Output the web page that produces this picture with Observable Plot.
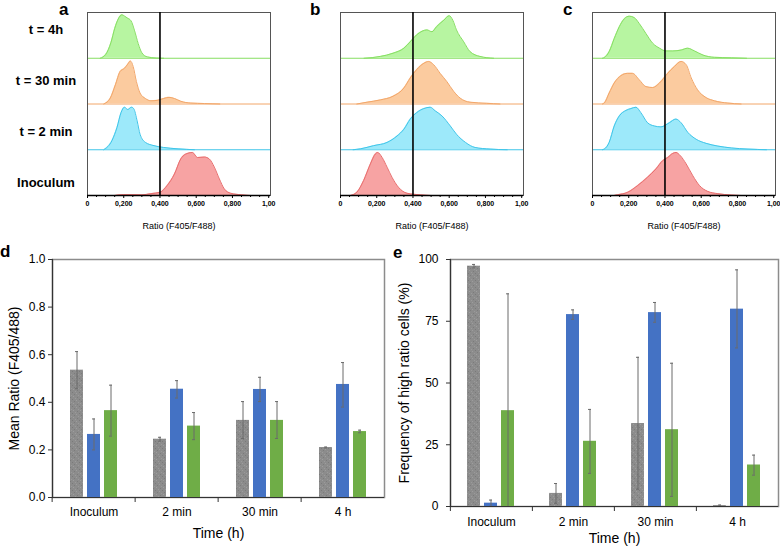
<!DOCTYPE html>
<html><head><meta charset="utf-8">
<script src="https://cdn.jsdelivr.net/npm/d3@7"></script>
<script src="https://cdn.jsdelivr.net/npm/@observablehq/plot@0.6"></script>
<style>
html,body{margin:0;padding:0;background:#fff;overflow:hidden;}
#root{position:relative;width:780px;height:548px;font-family:Arial,"Liberation Sans",Helvetica,sans-serif;color:#000;}
.panel{position:absolute;}
.letter{position:absolute;font-weight:bold;font-size:17px;line-height:17px;}
.rowlab{position:absolute;left:0;width:92px;text-align:center;font-weight:bold;font-size:13px;line-height:18px;}
</style></head><body>
<svg width="0" height="0" style="position:absolute">
  <defs>
    <pattern id="speckle" width="7" height="7" patternUnits="userSpaceOnUse">
      <rect width="7" height="7" fill="#8c8c8c"/>
      <rect x="0" y="0" width="1" height="1" fill="#7a7a7a"/>
      <rect x="4" y="1" width="1" height="1" fill="#9d9d9d"/>
      <rect x="2" y="2" width="1" height="1" fill="#7c7c7c"/>
      <rect x="6" y="3" width="1" height="1" fill="#9a9a9a"/>
      <rect x="1" y="4" width="1" height="1" fill="#9e9e9e"/>
      <rect x="5" y="5" width="1" height="1" fill="#7b7b7b"/>
      <rect x="3" y="6" width="1" height="1" fill="#9b9b9b"/>
    </pattern>
  </defs>
</svg>
<div id="root"></div>
<script>
// ---------- Data: top panels (ridgelines), rows listed top to bottom ----------
const rowLabels = ["t = 4h", "t = 30 min", "t = 2 min", "Inoculum"];
const panelLetters = ["a", "b", "c", "d", "e"];
const threshold = 0.4;
const xTicks = [0, 0.2, 0.4, 0.6, 0.8, 1.0];
const xTickLabels = ["0", "0,200", "0,400", "0,600", "0,800", "1,00"];
const xMinorTicks = [0.05,0.1,0.15,0.25,0.3,0.35,0.45,0.5,0.55,0.65,0.7,0.75,0.85,0.9,0.95];
const ridgeXLabel = "Ratio (F405/F488)";

// [ratio, relative height] knots
const a_4h = [[0.07,0],[0.10,0.08],[0.13,0.35],[0.15,0.65],[0.17,0.86],[0.19,0.95],[0.205,0.92],[0.22,0.88],[0.24,0.82],[0.26,0.6],[0.28,0.32],[0.30,0.12],[0.33,0.03],[0.38,0.005],[0.42,0]];
const a_30min = [[0.09,0],[0.126,0.13],[0.154,0.42],[0.18,0.71],[0.204,0.78],[0.222,0.87],[0.237,0.94],[0.252,0.82],[0.27,0.49],[0.29,0.24],[0.32,0.12],[0.35,0.07],[0.385,0.08],[0.42,0.12],[0.45,0.145],[0.48,0.12],[0.515,0.06],[0.57,0.02],[0.645,0.01],[0.73,0]];
const a_2min = [[0.09,0],[0.135,0.2],[0.163,0.49],[0.185,0.81],[0.204,0.93],[0.222,0.88],[0.243,0.93],[0.255,0.9],[0.274,0.63],[0.29,0.34],[0.32,0.16],[0.367,0.09],[0.42,0.05],[0.5,0.02],[0.59,0]];
const a_inoc = [[0.15,0],[0.2,0.02],[0.3,0.015],[0.35,0.04],[0.40,0.07],[0.44,0.22],[0.48,0.47],[0.515,0.8],[0.54,0.9],[0.58,0.94],[0.607,0.83],[0.645,0.84],[0.672,0.8],[0.70,0.62],[0.728,0.36],[0.755,0.145],[0.79,0.05],[0.85,0.015],[0.9,0]];

const b_4h = [[0.13,0],[0.22,0.04],[0.29,0.11],[0.35,0.22],[0.385,0.36],[0.42,0.51],[0.45,0.59],[0.477,0.62],[0.505,0.58],[0.53,0.69],[0.57,0.83],[0.60,0.93],[0.62,0.83],[0.64,0.62],[0.68,0.36],[0.715,0.145],[0.77,0.04],[0.845,0]];
const b_30min = [[0.09,0],[0.147,0.04],[0.22,0.09],[0.29,0.17],[0.35,0.35],[0.385,0.57],[0.42,0.75],[0.46,0.89],[0.486,0.93],[0.514,0.86],[0.55,0.67],[0.587,0.49],[0.624,0.28],[0.66,0.13],[0.715,0.04],[0.807,0.015],[0.88,0]];
const b_2min = [[0.07,0],[0.11,0.02],[0.183,0.09],[0.257,0.16],[0.312,0.3],[0.35,0.45],[0.385,0.67],[0.42,0.81],[0.46,0.9],[0.495,0.93],[0.523,0.85],[0.56,0.74],[0.606,0.52],[0.64,0.34],[0.69,0.16],[0.743,0.05],[0.826,0.015],[0.92,0]];
const b_inoc = [[0.055,0],[0.09,0.07],[0.128,0.33],[0.165,0.69],[0.193,0.91],[0.205,0.94],[0.23,0.83],[0.257,0.62],[0.284,0.4],[0.32,0.18],[0.367,0.05],[0.44,0.015],[0.5,0]];

const c_4h = [[0.055,0],[0.065,0.015],[0.092,0.145],[0.12,0.43],[0.148,0.69],[0.175,0.86],[0.203,0.92],[0.23,0.89],[0.258,0.76],[0.295,0.54],[0.332,0.33],[0.37,0.22],[0.405,0.16],[0.443,0.16],[0.49,0.18],[0.525,0.22],[0.563,0.16],[0.61,0.07],[0.673,0.02],[0.766,0.01],[0.85,0]];
const c_30min = [[0.055,0],[0.065,0.02],[0.092,0.24],[0.12,0.46],[0.157,0.62],[0.194,0.67],[0.221,0.67],[0.258,0.53],[0.295,0.38],[0.332,0.36],[0.37,0.46],[0.415,0.67],[0.452,0.82],[0.489,0.93],[0.517,0.86],[0.545,0.57],[0.58,0.31],[0.627,0.14],[0.673,0.07],[0.747,0.02],[0.82,0]];
const c_2min = [[0.055,0],[0.065,0.015],[0.092,0.16],[0.12,0.52],[0.148,0.74],[0.185,0.86],[0.212,0.9],[0.24,0.93],[0.267,0.81],[0.304,0.59],[0.341,0.52],[0.378,0.5],[0.424,0.59],[0.46,0.67],[0.489,0.59],[0.526,0.38],[0.572,0.23],[0.627,0.14],[0.692,0.08],[0.766,0.04],[0.858,0.015],[0.96,0]];
const c_inoc = [[0.12,0],[0.138,0.015],[0.194,0.07],[0.25,0.22],[0.304,0.4],[0.35,0.58],[0.387,0.76],[0.415,0.83],[0.443,0.92],[0.461,0.94],[0.485,0.87],[0.517,0.69],[0.554,0.43],[0.59,0.22],[0.636,0.09],[0.692,0.04],[0.766,0.01],[0.82,0]];

const rowFills = ["#b7f5a1", "#fbcb9f", "#9de9fa", "#f7a3a3"];
const rowStrokes = ["#86de62", "#f2a669", "#3fc5e9", "#e86e6e"];

// ---------- Data: bottom panels (bars with error bars) ----------
const groups = ["Inoculum", "2 min", "30 min", "4 h"];
const seriesKeys = ["s1", "s2", "s3"];
const seriesFills = ["url(#speckle)", "#4472c4", "#6fad47"];
const barXLabel = "Time (h)";

const d_s1 = [0.535, 0.245, 0.324, 0.21];
const d_s1_lo = [0.457, 0.237, 0.248, 0.208];
const d_s1_hi = [0.613, 0.253, 0.403, 0.212];
const d_s2 = [0.265, 0.455, 0.454, 0.475];
const d_s2_lo = [0.2, 0.418, 0.403, 0.38];
const d_s2_hi = [0.33, 0.491, 0.505, 0.567];
const d_s3 = [0.365, 0.30, 0.324, 0.277];
const d_s3_lo = [0.258, 0.243, 0.248, 0.272];
const d_s3_hi = [0.472, 0.357, 0.403, 0.283];
const d_yTicks = [0, 0.2, 0.4, 0.6, 0.8, 1.0];
const d_yLabel = "Mean Ratio (F405/488)";

const e_s1 = [97.3, 5.3, 33.6, 0.4];
const e_s1_lo = [96.6, 1.3, 7.0, 0.2];
const e_s1_hi = [98.0, 9.3, 60.4, 0.6];
const e_s2 = [1.35, 77.7, 78.5, 79.9];
const e_s2_lo = [0.1, 75.8, 74.6, 64.2];
const e_s2_hi = [2.6, 79.6, 82.6, 95.8];
const e_s3 = [38.8, 26.4, 31.1, 16.8];
const e_s3_lo = [0, 13.4, 4.1, 12.7];
const e_s3_hi = [86.1, 39.3, 58.0, 20.8];
const e_yTicks = [0, 25, 50, 75, 100];
const e_yLabel = "Frequency of high ratio cells (%)";

// ---------- Layout ----------
const root = document.getElementById("root");
const FONT = 'Arial, "Liberation Sans", Helvetica, sans-serif';

function place(el, left, top) {
  const wrap = document.createElement("div");
  wrap.className = "panel";
  wrap.style.left = left + "px";
  wrap.style.top = top + "px";
  wrap.appendChild(el);
  root.appendChild(wrap);
}
function letter(t, left, top) {
  const s = document.createElement("div");
  s.className = "letter";
  s.textContent = t;
  s.style.left = left + "px";
  s.style.top = top + "px";
  root.appendChild(s);
}

function ridge(rowsTopToBottom, width, marginRight) {
  const rows = rowsTopToBottom.slice().reverse(); // index 0 = bottom row
  const n = rows.length;
  const marks = [];
  rows.forEach((pts, i) => {
    const ci = n - 1 - i;
    const data = pts.map(([x, h]) => ({x, b: i, t: i + h}));
    marks.push(Plot.ruleY([i], {stroke: rowStrokes[ci], strokeWidth: 1}));
    marks.push(Plot.areaY(data, {x: "x", y1: "b", y2: "t", fill: rowFills[ci], curve: "monotone-x"}));
    marks.push(Plot.lineY(data, {x: "x", y: "t", stroke: rowStrokes[ci], strokeWidth: 1, curve: "monotone-x"}));
  });
  marks.push(Plot.frame({stroke: "#555", strokeWidth: 1}));
  marks.push(Plot.ruleX([threshold], {stroke: "#000", strokeWidth: 1.6}));
  marks.push(Plot.ruleY([0], {stroke: "#000", strokeWidth: 1.4}));
  marks.push(Plot.axisX({ticks: xMinorTicks, tickSize: 2, tickFormat: () => "", label: null, stroke: "#000"}));
  marks.push(Plot.axisX({ticks: xTicks, tickSize: 3, tickPadding: 3, tickFormat: d => xTickLabels[xTicks.indexOf(d)], fontSize: 7, fontWeight: "bold", label: null, stroke: "#000"}));
  marks.push(Plot.text([ridgeXLabel], {frameAnchor: "bottom", dy: 33, fontSize: 9, text: d => d}));
  return Plot.plot({
    width, height: 240,
    marginLeft: 87, marginRight, marginTop: 12, marginBottom: 45,
    style: {background: "transparent", overflow: "visible", fontFamily: FONT},
    x: {domain: [0, 1.01]},
    y: {domain: [0, n], axis: null},
    marks
  });
}

place(ridge([a_4h, a_30min, a_2min, a_inoc], 280, 10), 0, 0);
place(ridge([b_4h, b_30min, b_2min, b_inoc], 280, 10), 253, 0);
place(ridge([c_4h, c_30min, c_2min, c_inoc], 275, 5), 505, 0);

rowLabels.forEach((t, i) => {
  const s = document.createElement("div");
  s.className = "rowlab";
  s.textContent = t;
  s.style.top = (21 + 51 * i) + "px";
  root.appendChild(s);
});

function table(vals, los, his) {
  const out = [];
  groups.forEach((g, gi) => {
    seriesKeys.forEach((s, si) => {
      out.push({group: g, series: s, value: vals[si][gi], lo: los[si][gi], hi: his[si][gi]});
    });
  });
  return out;
}

function bars(data, opts) {
  const {width, height, marginLeft, marginRight, marginTop, marginBottom, yDomain, yTicks, yFormat, yLabel, yLabelDx, tickPad, fxPad, xLabelDy} = opts;
  const facetW = (width - marginLeft - marginRight) / groups.length;
  return Plot.plot({
    width, height, marginLeft, marginRight, marginTop, marginBottom,
    style: {background: "transparent", overflow: "visible", fontFamily: FONT},
    fx: {domain: groups, padding: 0, label: null},
    x: {domain: seriesKeys, paddingInner: 0.22, paddingOuter: 0.92, axis: null},
    y: {domain: yDomain, label: null},
    color: {type: "ordinal", domain: seriesKeys, range: seriesFills},
    marks: [
      Plot.frame({facet: "super", stroke: "#8c8c8c", strokeWidth: 1.5}),
      Plot.barY(data, {fx: "group", x: "series", y: "value", fill: "series"}),
      Plot.ruleX(data, {fx: "group", x: "series", y1: "lo", y2: "hi", stroke: "#6b6b6b", strokeWidth: 1}),
      Plot.tickY(data, {fx: "group", x: "series", y: "lo", stroke: "#6b6b6b", insetLeft: 5, insetRight: 5}),
      Plot.tickY(data, {fx: "group", x: "series", y: "hi", stroke: "#6b6b6b", insetLeft: 5, insetRight: 5}),
      Plot.frame({facet: "super", anchor: "left", stroke: "#333", strokeWidth: 1.2}),
      Plot.ruleY([yDomain[0]], {stroke: "#333", strokeWidth: 1.2}),
      Plot.axisY({ticks: yTicks, tickFormat: yFormat, tickSize: 4, tickPadding: tickPad, fontSize: 12, label: null, stroke: "#333"}),
      Plot.axisFx({anchor: "bottom", tickSize: 0, tickPadding: fxPad, fontSize: 12, label: null}),
      Plot.axisFx({anchor: "bottom", tickSize: 5, tickFormat: () => "", dx: -facetW / 2, label: null, stroke: "#333"}),
      Plot.text([yLabel], {facet: "super", frameAnchor: "left", textAnchor: "middle", rotate: -90, dx: yLabelDx, fontSize: 14, text: d => d}),
      Plot.text([barXLabel], {facet: "super", frameAnchor: "bottom", dy: xLabelDy, fontSize: 14, text: d => d})
    ]
  });
}

const dData = table([d_s1, d_s2, d_s3], [d_s1_lo, d_s2_lo, d_s3_lo], [d_s1_hi, d_s2_hi, d_s3_hi]);
const eData = table([e_s1, e_s2, e_s3], [e_s1_lo, e_s2_lo, e_s3_lo], [e_s1_hi, e_s2_hi, e_s3_hi]);

place(bars(dData, {width: 390, height: 303, marginLeft: 50, marginRight: 5, marginTop: 14, marginBottom: 51,
  yDomain: [0, 1], yTicks: d_yTicks, yFormat: d => d.toFixed(1), yLabel: d_yLabel, yLabelDx: -38, tickPad: 3, fxPad: 10, xLabelDy: 40}), 0, 245);
place(bars(eData, {width: 390, height: 303, marginLeft: 59, marginRight: 2, marginTop: 14, marginBottom: 42,
  yDomain: [0, 100], yTicks: e_yTicks, yFormat: d => String(d), yLabel: e_yLabel, yLabelDx: -46, tickPad: 8, fxPad: 11, xLabelDy: 36}), 390, 245);

letter(panelLetters[0], 59, 1);
letter(panelLetters[1], 310, 1);
letter(panelLetters[2], 563, 1);
letter(panelLetters[3], 0, 243);
letter(panelLetters[4], 393, 244);
</script>
</body></html>
